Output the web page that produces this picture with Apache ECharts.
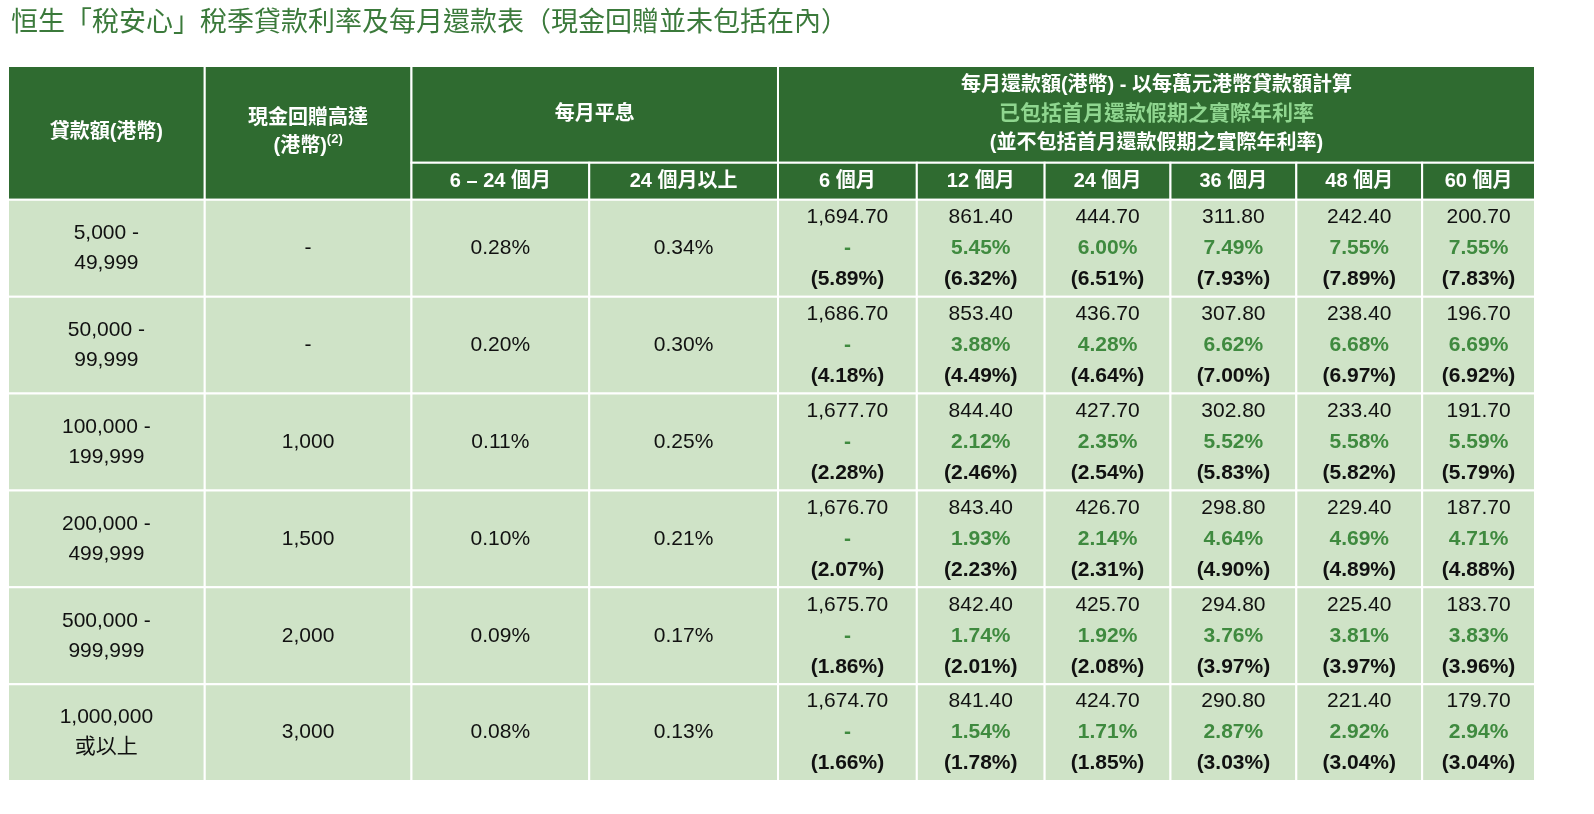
<!DOCTYPE html>
<html><head><meta charset="utf-8">
<script src="https://cdn.jsdelivr.net/npm/echarts@6/dist/echarts.min.js"></script>
<style>html,body{margin:0;padding:0;background:#fff}#c{width:1594px;height:814px}</style>
</head><body><div id="c"></div>
<script>
var title = '恒生「稅安心」稅季貸款利率及每月還款表（現金回贈並未包括在內）';
var loanAmounts = ['5,000 -\n49,999','50,000 -\n99,999','100,000 -\n199,999','200,000 -\n499,999','500,000 -\n999,999','1,000,000\n或以上'];
var cashRebate = ['-','-','1,000','1,500','2,000','3,000'];
var flatShort = ['0.28%','0.20%','0.11%','0.10%','0.09%','0.08%'];
var flatLong = ['0.34%','0.30%','0.25%','0.21%','0.17%','0.13%'];
var terms = ['6 個月','12 個月','24 個月','36 個月','48 個月','60 個月'];
var payments = [
 ['1,694.70','861.40','444.70','311.80','242.40','200.70'],
 ['1,686.70','853.40','436.70','307.80','238.40','196.70'],
 ['1,677.70','844.40','427.70','302.80','233.40','191.70'],
 ['1,676.70','843.40','426.70','298.80','229.40','187.70'],
 ['1,675.70','842.40','425.70','294.80','225.40','183.70'],
 ['1,674.70','841.40','424.70','290.80','221.40','179.70']];
var aprWithHoliday = [
 ['-','5.45%','6.00%','7.49%','7.55%','7.55%'],
 ['-','3.88%','4.28%','6.62%','6.68%','6.69%'],
 ['-','2.12%','2.35%','5.52%','5.58%','5.59%'],
 ['-','1.93%','2.14%','4.64%','4.69%','4.71%'],
 ['-','1.74%','1.92%','3.76%','3.81%','3.83%'],
 ['-','1.54%','1.71%','2.87%','2.92%','2.94%']];
var aprExHoliday = [
 ['(5.89%)','(6.32%)','(6.51%)','(7.93%)','(7.89%)','(7.83%)'],
 ['(4.18%)','(4.49%)','(4.64%)','(7.00%)','(6.97%)','(6.92%)'],
 ['(2.28%)','(2.46%)','(2.54%)','(5.83%)','(5.82%)','(5.79%)'],
 ['(2.07%)','(2.23%)','(2.31%)','(4.90%)','(4.89%)','(4.88%)'],
 ['(1.86%)','(2.01%)','(2.08%)','(3.97%)','(3.97%)','(3.96%)'],
 ['(1.66%)','(1.78%)','(1.85%)','(3.03%)','(3.04%)','(3.04%)']];
var headLoan = '貸款額(港幣)';
var headCash = '現金回贈高達\n(港幣){sup|(2)}';
var headFlat = '每月平息';
var headShort = '6 – 24 個月', headLong = '24 個月以上';
var headPay = ['每月還款額(港幣) - 以每萬元港幣貸款額計算','已包括首月還款假期之實際年利率','(並不包括首月還款假期之實際年利率)'];

// layout (column widths / row heights)
var colW = [197,207,178,189,139,128,126,126,126,113];
var rowH = [97,37,97,97,97,97,97,97];
var cx=[0]; colW.forEach(function(w){cx.push(cx[cx.length-1]+w);});
var ry=[0]; rowH.forEach(function(h){ry.push(ry[ry.length-1]+h);});

var cells=[];
cells.push([0,1,0,2,'h',headLoan]);
cells.push([1,2,0,2,'h',headCash]);
cells.push([2,4,0,1,'h',headFlat]);
cells.push([2,3,1,2,'h',headShort]);
cells.push([3,4,1,2,'h',headLong]);
cells.push([4,10,0,1,'hp','{w|'+headPay[0]+'}\n{g|'+headPay[1]+'}\n{w|'+headPay[2]+'}']);
terms.forEach(function(t,i){cells.push([4+i,5+i,1,2,'h',t]);});
for(var r=0;r<6;r++){
  var R=r+2;
  cells.push([0,1,R,R+1,'b',loanAmounts[r]]);
  cells.push([1,2,R,R+1,'b',cashRebate[r]]);
  cells.push([2,3,R,R+1,'b',flatShort[r]]);
  cells.push([3,4,R,R+1,'b',flatLong[r]]);
  for(var k=0;k<6;k++) cells.push([4+k,5+k,R,R+1,'p','{n|'+payments[r][k]+'}\n{g|'+aprWithHoliday[r][k]+'}\n{b|'+aprExHoliday[r][k]+'}']);
}
var ch=echarts.init(document.getElementById('c'));
var FF='"Liberation Sans", Arial, "Noto Sans CJK TC", sans-serif';
ch.setOption({
 animation:false,
 title:{text:title,left:6,top:5,textStyle:{color:'#3b7a3b',fontSize:27,fontWeight:'normal',fontFamily:FF}},
 grid:{left:8,right:1594-1535,top:66,bottom:814-781,outerBoundsMode:'none',containLabel:false},
 xAxis:{type:'value',min:0,max:cx[cx.length-1],show:false},
 yAxis:{type:'value',min:0,max:ry[ry.length-1],inverse:true,show:false},
 series:[{type:'custom',clip:false,data:cells.map(function(c){return [cx[c[0]],cx[c[1]],ry[c[2]],ry[c[3]],c[4],c[5]];}),
  renderItem:function(p,api){
   var d=cells[p.dataIndex];
   var a=api.coord([cx[d[0]],ry[d[2]]]), b=api.coord([cx[d[1]],ry[d[3]]]);
   var head=d[4]==='h'||d[4]==='hp';
   var ts={text:d[5],x:(a[0]+b[0])/2,y:(a[1]+b[1])/2,align:'center',verticalAlign:'middle',
     fontFamily:FF,fontSize:head?20:21,fontWeight:head?'bold':'normal',fill:head?'#fff':'#111',lineHeight:head?28:30,
     rich:{sup:{fontSize:13,fontWeight:'bold',fill:'#fff',verticalAlign:'top',padding:[0,0,10,0]},
       w:{fontSize:20,fontWeight:'bold',fill:'#fff',lineHeight:29,fontFamily:FF},
       g:{fontSize:21,fontWeight:'bold',fill:d[4]==='hp'?'#8fd68f':'#3f8a3f',lineHeight:d[4]==='hp'?29:31,fontFamily:FF},
       n:{fontSize:21,fill:'#111',lineHeight:31,fontFamily:FF},
       b:{fontSize:21,fontWeight:'bold',fill:'#111',lineHeight:31,fontFamily:FF}}};
   return {type:'group',children:[
    {type:'rect',shape:{x:a[0],y:a[1],width:b[0]-a[0],height:b[1]-a[1]},style:{fill:head?'#2f6b30':'#cfe3c7',stroke:'#fff',lineWidth:2}},
    {type:'text',style:ts}
   ]};
  }}]
});
</script></body></html>
